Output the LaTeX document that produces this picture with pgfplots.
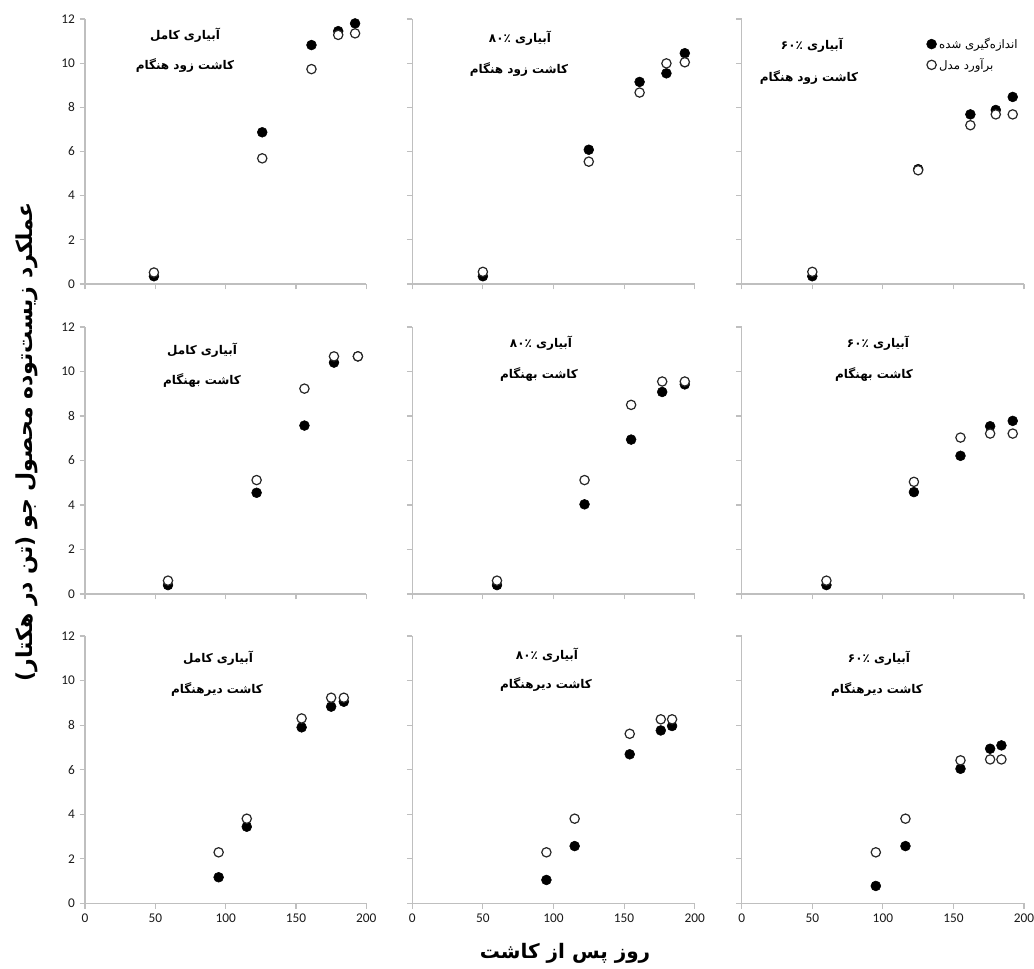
\documentclass[border=0pt]{standalone}
\usepackage{fontspec}
\setmainfont{Carlito}
\newfontfamily\fa[Script=Arabic]{DejaVu Sans}
\TeXXeTstate=1
\usepackage{pgfplots}
\pgfplotsset{compat=1.18}
\newcommand\pan{\fa\bfseries\fontsize{9}{10}\selectfont}
\pgfplotsset{
  panel/.style={scale only axis, width=211pt, xmin=0, xmax=200, ymin=0, ymax=12,
    axis x line=bottom, axis y line=left,
    axis line style={draw=black!25, line width=0.8pt, -},
    tick style={draw=black!25, line width=0.8pt},
    major tick length=4pt, tick align=outside,
    xtick={0,50,...,200}, ytick={0,2,...,12},
    clip=false, anchor=south west,
    /pgf/number format/assume math mode=true,
    ticklabel style={font=\fontsize{10}{11}\selectfont, text=black!90},
    legend style={draw=none, fill=none, font=\fa\fontsize{8.8}{10}\selectfont, row sep=2pt},
    legend cell align=left},
  nox/.style={xticklabels={}},
  noy/.style={yticklabels={}},
  meas/.style={only marks, mark=*, mark size=3.7pt, mark options={fill=black, draw=black}},
  mod/.style={only marks, mark=*, mark size=3.5pt, mark options={fill=white, draw=black!85, line width=0.9pt}},
}
\begin{document}
\begin{tikzpicture}
% ---------- Row 1 ----------
\begin{axis}[panel, nox, height=198.75pt, at={(63.75pt,513pt)}]
\addplot[meas] coordinates {(49,0.35) (126,6.87) (161,10.82) (180,11.45) (192,11.8)};
\addplot[mod] coordinates {(49,0.52) (126,5.69) (161,9.73) (180,11.28) (192,11.35)};
\end{axis}
\begin{axis}[panel, nox, noy, width=211.8pt, height=198.75pt, at={(309.2pt,513pt)}]
\addplot[meas] coordinates {(50,0.35) (125,6.08) (161,9.15) (180,9.54) (193,10.45)};
\addplot[mod] coordinates {(50,0.55) (125,5.54) (161,8.67) (180,9.99) (193,10.04)};
\end{axis}
\begin{axis}[panel, nox, noy, width=211.7pt, height=198.75pt, at={(556.3pt,513pt)},
  legend style={at={(0.64,0.95)}, anchor=north west}]
\addplot[meas] coordinates {(50,0.35) (125,5.2) (162,7.68) (180,7.88) (192,8.47)};
\addlegendentry{\beginR اندازه‌گیری شده\endR}
\addplot[mod] coordinates {(50,0.55) (125,5.15) (162,7.19) (180,7.68) (192,7.68)};
\addlegendentry{\beginR برآورد مدل\endR}
\end{axis}
% ---------- Row 2 ----------
\begin{axis}[panel, nox, height=200.25pt, at={(63.75pt,280.5pt)}]
\addplot[meas] coordinates {(59,0.4) (122,4.55) (156,7.57) (177,10.4) (194,10.68)};
\addplot[mod] coordinates {(59,0.6) (122,5.12) (156,9.23) (177,10.68) (194,10.68)};
\end{axis}
\begin{axis}[panel, nox, noy, width=211.8pt, height=200.25pt, at={(309.2pt,280.5pt)}]
\addplot[meas] coordinates {(60,0.4) (122,4.03) (155,6.94) (177,9.08) (193,9.42)};
\addplot[mod] coordinates {(60,0.6) (122,5.12) (155,8.5) (177,9.55) (193,9.55)};
\end{axis}
\begin{axis}[panel, nox, noy, width=211.7pt, height=200.25pt, at={(556.3pt,280.5pt)}]
\addplot[meas] coordinates {(60,0.4) (122,4.58) (155,6.21) (176,7.54) (192,7.78)};
\addplot[mod] coordinates {(60,0.6) (122,5.04) (155,7.03) (176,7.21) (192,7.21)};
\end{axis}
% ---------- Row 3 ----------
\begin{axis}[panel, height=200.5pt, at={(63.75pt,48.5pt)}]
\addplot[meas] coordinates {(95,1.17) (115,3.44) (154,7.9) (175,8.83) (184,9.05)};
\addplot[mod] coordinates {(95,2.29) (115,3.8) (154,8.3) (175,9.23) (184,9.23)};
\end{axis}
\begin{axis}[panel, noy, width=211.8pt, height=200.5pt, at={(309.2pt,48.5pt)}]
\addplot[meas] coordinates {(95,1.05) (115,2.57) (154,6.69) (176,7.76) (184,7.96)};
\addplot[mod] coordinates {(95,2.29) (115,3.8) (154,7.61) (176,8.26) (184,8.26)};
\end{axis}
\begin{axis}[panel, noy, width=211.7pt, height=200.5pt, at={(556.3pt,48.5pt)}]
\addplot[meas] coordinates {(95,0.78) (116,2.57) (155,6.04) (176,6.94) (184,7.09)};
\addplot[mod] coordinates {(95,2.29) (116,3.8) (155,6.42) (176,6.46) (184,6.46)};
\end{axis}
% ---------- captions (pixel coordinates, y downward) ----------
\begin{scope}[x=0.75pt, y=-0.75pt, yshift=726pt]
\node[font=\pan] at (185,35) {\beginR آبیاری کامل\endR};
\node[font=\pan] at (185,66) {\beginR کاشت زود هنگام\endR};
\node[font=\pan] at (520,38) {\beginR آبیاری ۸۰٪\endR};
\node[font=\pan] at (519,70) {\beginR کاشت زود هنگام\endR};
\node[font=\pan] at (812,45) {\beginR آبیاری ۶۰٪\endR};
\node[font=\pan] at (809,78) {\beginR کاشت زود هنگام\endR};
\node[font=\pan] at (202,350) {\beginR آبیاری کامل\endR};
\node[font=\pan] at (202,381) {\beginR کاشت بهنگام\endR};
\node[font=\pan] at (541,343) {\beginR آبیاری ۸۰٪\endR};
\node[font=\pan] at (539,375) {\beginR کاشت بهنگام\endR};
\node[font=\pan] at (878,343) {\beginR آبیاری ۶۰٪\endR};
\node[font=\pan] at (874,375) {\beginR کاشت بهنگام\endR};
\node[font=\pan] at (218,658) {\beginR آبیاری کامل\endR};
\node[font=\pan] at (217,690) {\beginR کاشت دیرهنگام\endR};
\node[font=\pan] at (547,655) {\beginR آبیاری ۸۰٪\endR};
\node[font=\pan] at (546,685) {\beginR کاشت دیرهنگام\endR};
\node[font=\pan] at (879,658) {\beginR آبیاری ۶۰٪\endR};
\node[font=\pan] at (877,690) {\beginR کاشت دیرهنگام\endR};
\node[font=\fa\bfseries\fontsize{16.5}{18}\selectfont, rotate=90] at (27,442)
  {\beginR عملکرد زیست‌توده محصول جو (تن در هکتار)\endR};
\node[font=\fa\bfseries\fontsize{15}{17}\selectfont] at (565,953)
  {\beginR روز پس از کاشت\endR};
\end{scope}
\pgfresetboundingbox
\useasboundingbox (0pt,0pt) rectangle (775.5pt,726pt);
\end{tikzpicture}
\end{document}
